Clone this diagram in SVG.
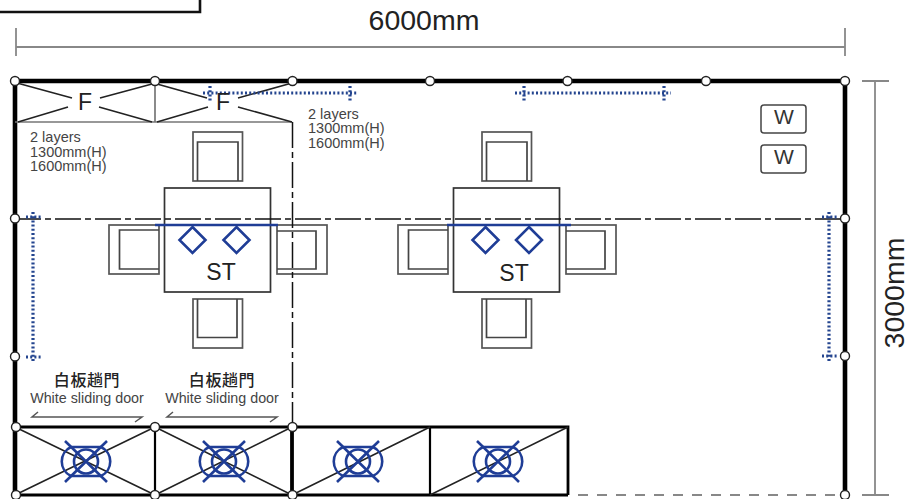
<svg xmlns="http://www.w3.org/2000/svg" xmlns:xlink="http://www.w3.org/1999/xlink" width="918" height="499" viewBox="0 0 918 499">
<style>
text{font-family:"Liberation Sans",Arial,sans-serif;fill:#222}
.big{font-size:28.500px}
.mid{font-size:23px;text-anchor:middle}
.note{font-size:14.500px;fill:#444}
.door{font-size:14.300px;text-anchor:middle;fill:#444}
.cjk{font-family:"Noto Sans CJK TC","Liberation Sans",sans-serif;font-size:16px;letter-spacing:.6px;text-anchor:middle;fill:#222;font-weight:500}
.w{font-size:21px;text-anchor:middle;fill:#333}
.wall{fill:none;stroke:#000;stroke-width:4.600}
.thin{fill:none;stroke:#777;stroke-width:1.700}
.diag{fill:none;stroke:#222;stroke-width:1.600}
.gray{fill:none;stroke:#555;stroke-width:1.500}
.dim{fill:none;stroke:#888;stroke-width:1.800}
.center{fill:none;stroke:#111;stroke-width:1.500;stroke-dasharray:26 4 6 4}
.blue{fill:none;stroke:#1f3d96;stroke-width:2.600}
.dots{fill:none;stroke:#24458f;stroke-width:3.200;stroke-dasharray:2 2.200}
.node{fill:#fff;stroke:#222;stroke-width:1.400}
.chair{fill:#fff;stroke:#555;stroke-width:1.700}
.seat{fill:none;stroke:#444;stroke-width:1.700}
</style>
<defs>
<g id="mark">
<path class="blue" d="M-15-14.500H15A16 16 0 0 1 15 14.500H-15A16 16 0 0 1-15-14.500Z"/>
<circle class="blue" r="12"/>
<path class="blue" d="M-21-20.500 21 20.500M21-20.500-21 20.500"/>
</g>
<g id="setting">
<rect class="chair" x="193" y="132" width="49.500" height="49"/><path class="seat" d="M197.500 181V142H238V181"/>
<rect class="chair" x="193" y="299" width="49.500" height="49"/><path class="seat" d="M197.500 299V337.500H237V299"/>
<rect class="chair" x="109" y="225" width="50" height="49"/><path class="seat" d="M159 230H119.500V269H159"/>
<rect class="chair" x="277" y="225" width="50" height="49"/><path class="seat" d="M277 231H316V269H277"/>
<rect fill="#fff" fill-opacity="0" stroke="#333" stroke-width="1.700" x="164.500" y="188" width="106" height="104"/>
</g>
</defs>

<g id="title-box"><path fill="none" stroke="#111" stroke-width="2.600" d="M0 12H200V0"/></g>

<g id="dimension-width">
<path class="dim" d="M16 47H845M16 28V56M845 28V56"/>
<text class="big" x="424" y="30" text-anchor="middle">6000mm</text>
</g>
<g id="dimension-height">
<path class="dim" d="M875 81V495M862 81H889M862 495H889"/>
<text class="big" transform="translate(904 293) rotate(-90)" text-anchor="middle">3000mm</text>
</g>

<g id="table-left">
<use xlink:href="#setting"/>
</g>
<g id="table-right">
<use xlink:href="#setting" x="289"/>
</g>

<g id="connectors">
<path class="center" d="M15 219H845"/>
<path class="center" d="M292.500 122V427"/>
<path class="wall" d="M15 81H845V495"/>
<path class="wall" d="M15 81V495"/>
<path fill="none" stroke="#000" stroke-width="2.800" d="M15 427H568V495"/>
<path fill="none" stroke="#000" stroke-width="3.200" d="M15 495H568"/>
<path fill="none" stroke="#000" stroke-width="2.200" d="M155 427V495M430 427V495"/>
<path fill="none" stroke="#000" stroke-width="3.800" d="M292 427V495"/>
<path fill="none" stroke="#888" stroke-width="2.200" stroke-dasharray="10 9" d="M578 495H845"/>
<path class="thin" d="M15 122H292M155 81V122"/>
<path class="diag" d="M17 83 72 98M18 122 68 107M100 98 152 84M99 107 152 122M157 84 207 98M157 122 208 107M238 98 292 83M238 107 292 122"/>
<path class="diag" d="M15 427 155 495M15 495 155 427M155 427 292 495M155 495 292 427M292 495 430 427M430 495 568 427"/>
<path class="gray" d="M38 412 32 417H142L135 422M173 412 167 417H277L270 422"/>
</g>

<g id="blue-lines">
<path class="blue" d="M155 225H278M447 225H571"/>
<path class="blue" d="M192.500 227 205.500 240 192.500 253 179.500 240ZM236.500 227 249.500 240 236.500 253 223.500 240ZM485.500 227 498.500 240 485.500 253 472.500 240ZM529 227 542 240 529 253 516 240Z"/>
<path class="dots" d="M203 93H357M210 86V102M350 86V102M515 93H671M524 86V102M664 86V102M33 212V362M26 217H42M26 357H42M829 212V362M822 217H838M822 356H838"/>
</g>

<g id="mark-1"><use xlink:href="#mark" x="86" y="461.500"/></g>
<g id="mark-2"><use xlink:href="#mark" x="224" y="461.500"/></g>
<g id="mark-3"><use xlink:href="#mark" x="358" y="461.500"/></g>
<g id="mark-4"><use xlink:href="#mark" x="498" y="461.500"/></g>

<g id="wardrobe-1"><text class="mid" x="85" y="109.500">F</text></g>
<g id="wardrobe-2"><text class="mid" x="223" y="110">F</text></g>
<g id="note-left">
<text class="note" x="30" y="142">2 layers</text>
<text class="note" x="30" y="156.500">1300mm(H)</text>
<text class="note" x="30" y="171">1600mm(H)</text>
</g>
<g id="note-right">
<text class="note" x="308" y="118.500">2 layers</text>
<text class="note" x="308" y="133">1300mm(H)</text>
<text class="note" x="308" y="147.500">1600mm(H)</text>
</g>
<g id="st-left"><text class="mid" x="221" y="280">ST</text></g>
<g id="st-right"><text class="mid" x="514" y="281">ST</text></g>
<g id="door-left">
<text class="cjk" x="87" y="386">白板趟門</text>
<text class="door" x="87" y="402.500">White sliding door</text>
</g>
<g id="door-right">
<text class="cjk" x="222" y="386">白板趟門</text>
<text class="door" x="222" y="402.500">White sliding door</text>
</g>
<g id="wall-unit-1"><rect fill="#fff" stroke="#444" stroke-width="1.500" x="761" y="105" width="45" height="28" rx="3"/><text class="w" x="784" y="124">W</text></g>
<g id="wall-unit-2"><rect fill="#fff" stroke="#444" stroke-width="1.500" x="761" y="145" width="45" height="28" rx="3"/><text class="w" x="784" y="164">W</text></g>

<g id="posts">
<circle class="node" cx="15" cy="81" r="4.500"/><circle class="node" cx="155" cy="81" r="4.500"/><circle class="node" cx="292.500" cy="81" r="4.500"/><circle class="node" cx="430" cy="81" r="4.500"/><circle class="node" cx="567.500" cy="81" r="4.500"/><circle class="node" cx="706" cy="81" r="4.500"/><circle class="node" cx="845" cy="81" r="4.500"/>
<circle class="node" cx="15" cy="218.500" r="4.500"/><circle class="node" cx="845" cy="218.500" r="4.500"/>
<circle class="node" cx="15" cy="356.500" r="4.500"/><circle class="node" cx="845" cy="356" r="4.500"/>
<circle class="node" cx="16" cy="427" r="4.500"/><circle class="node" cx="155" cy="427" r="4.500"/><circle class="node" cx="292.500" cy="427" r="4.500"/>
<circle class="node" cx="16" cy="495" r="4.500"/><circle class="node" cx="155" cy="495" r="4.500"/><circle class="node" cx="292.500" cy="495" r="4.500"/><circle class="node" cx="845" cy="495" r="4.500"/>
</g>
</svg>
